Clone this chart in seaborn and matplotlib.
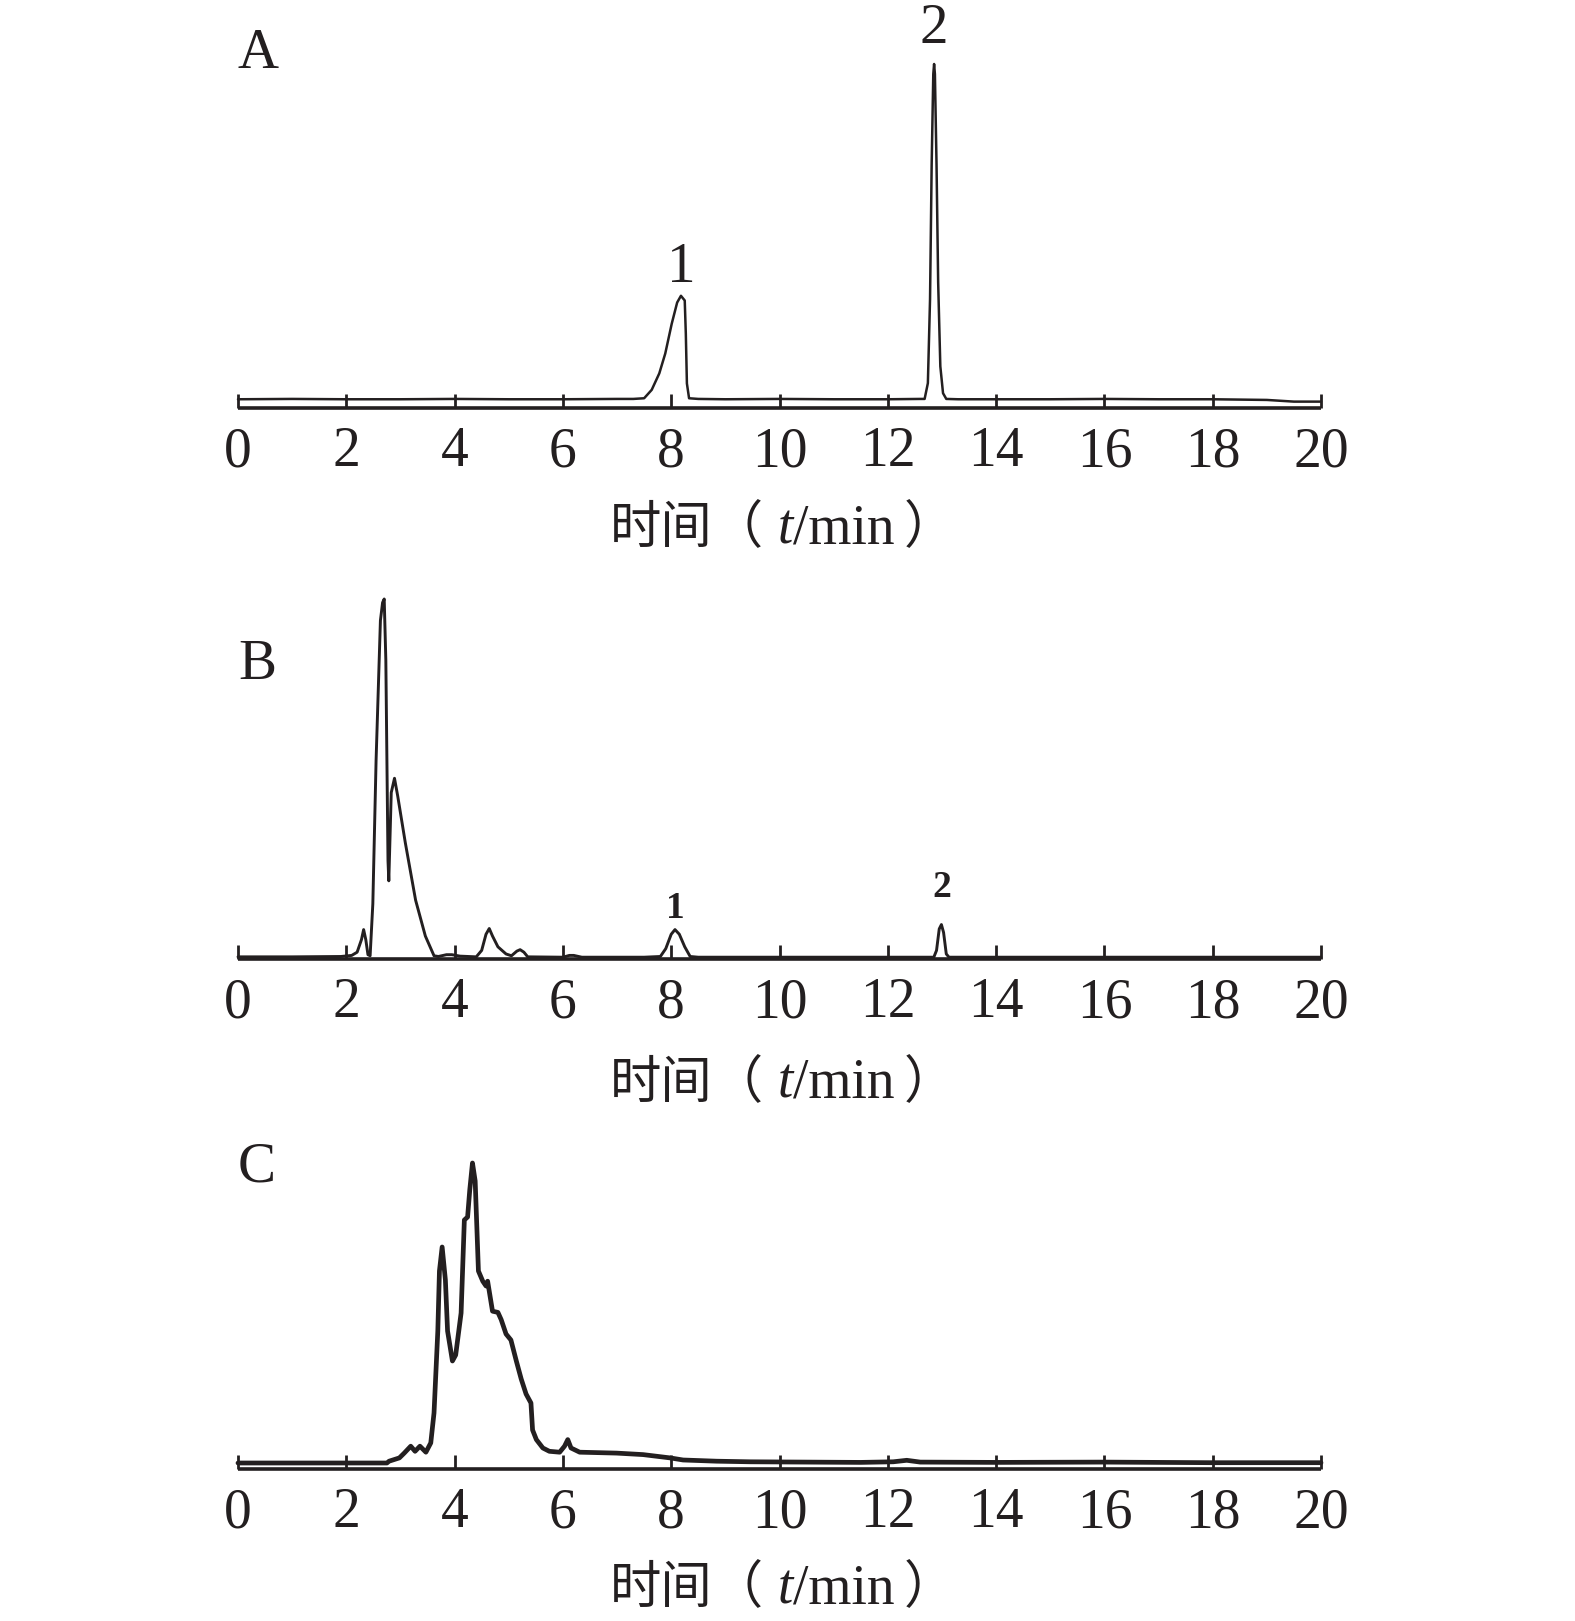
import numpy as np
import pandas as pd
import matplotlib
matplotlib.use("Agg")
import matplotlib.pyplot as plt
import seaborn as sns

# ---------------- data ----------------
# Chromatogram A (standards), intensity normalised to peak 2 = 100
a_time = [0, 1, 2, 3, 4, 5, 6, 7, 7.3, 7.50, 7.64, 7.78, 7.89, 8.01, 8.11, 8.18,
          8.25, 8.27, 8.29, 8.33, 8.5, 9, 10, 11, 12, 12.6, 12.68, 12.74, 12.78,
          12.81, 12.84, 12.855, 12.87, 12.90, 12.93, 12.97, 13.02, 13.08, 13.3,
          14, 15, 16, 17, 18, 19, 19.5, 20]
a_int = [0.2, 0.3, 0.2, 0.2, 0.3, 0.2, 0.2, 0.3, 0.3, 0.5, 3.0, 7.9, 13.8, 22.7, 29.0, 31.0,
         29.6, 19.7, 4.9, 0.5, 0.3, 0.2, 0.3, 0.2, 0.2, 0.3, 0.3, 5.0, 30.0,
         70.0, 97.0, 100.0, 97.0, 70.0, 35.0, 10.0, 2.0, 0.3, 0.2,
         0.2, 0.2, 0.3, 0.2, 0.2, 0.0, -0.5, -0.5]

# Chromatogram B (sample), normalised to the largest peak = 100
b_time = [0, 1, 1.9, 2.1, 2.2, 2.28, 2.32, 2.36, 2.40, 2.44, 2.49, 2.55, 2.63, 2.67,
          2.70, 2.73, 2.77, 2.785, 2.83, 2.89, 2.95, 3.09, 3.28, 3.46, 3.62, 3.7,
          3.85, 3.95, 4.1, 4.4, 4.5, 4.58, 4.64, 4.7, 4.8, 4.95, 5.05, 5.15, 5.21,
          5.28, 5.35, 6.0, 6.12, 6.2, 6.35, 7.5, 7.8, 7.9, 8.0, 8.07, 8.15, 8.25,
          8.35, 8.5, 12.85, 12.9, 12.95, 12.99, 13.03, 13.08, 13.13, 20]
b_int = [0.2, 0.2, 0.3, 0.6, 1.5, 5.0, 7.8, 5.0, 0.8, 0.5, 15.0, 55.0, 94.0, 99.0,
         100.0, 83.0, 27.0, 21.4, 46.0, 50.0, 45.0, 32.0, 16.0, 6.0, 0.5, 0.3,
         0.8, 0.8, 0.4, 0.2, 2.0, 6.5, 8.1, 6.0, 3.0, 1.0, 0.5, 1.8, 2.2,
         1.5, 0.2, 0.1, 0.6, 0.6, 0.1, 0.1, 0.3, 2.5, 6.5, 7.8, 6.5, 3.0,
         0.3, 0.1, 0.1, 2.0, 8.0, 9.2, 7.0, 1.0, 0.1, 0.1]

# Chromatogram C (blank matrix), normalised to the largest peak = 100
c_time = [0, 2.75, 2.79, 2.98, 3.07, 3.19, 3.27, 3.36, 3.47, 3.56, 3.62, 3.69, 3.72,
          3.77, 3.83, 3.87, 3.96, 4.02, 4.12, 4.18, 4.24, 4.28, 4.33, 4.38, 4.44,
          4.52, 4.58, 4.61, 4.70, 4.80, 4.86, 4.95, 5.04, 5.14, 5.23, 5.32, 5.41,
          5.44, 5.51, 5.63, 5.75, 5.94, 6.03, 6.09, 6.15, 6.31, 6.99, 7.48, 7.98,
          8.22, 8.84, 9.46, 10.5, 11.5, 12.1, 12.35, 12.6, 14, 16, 18, 20]
c_int = [0.0, 0.0, 0.6, 1.7, 3.3, 5.6, 3.9, 5.6, 3.6, 6.7, 16.7, 44.0, 64.0,
         72.0, 61.0, 44.0, 34.0, 36.0, 50.0, 81.0, 82.0, 91.0, 100.0, 94.0, 64.0,
         60.6, 59.0, 60.6, 50.6, 50.2, 47.8, 43.0, 41.0, 34.0, 28.0, 23.0, 20.0,
         11.0, 7.8, 5.0, 3.9, 3.6, 5.6, 7.8, 5.0, 3.6, 3.3, 2.8, 1.7,
         1.0, 0.6, 0.4, 0.3, 0.2, 0.4, 0.9, 0.3, 0.2, 0.3, 0.1, 0.1]

panel_letters = ["A", "B", "C"]
a_peak_time = [8.18, 12.855]
a_peak_int = [31.0, 100.0]
a_peak_labels = ["1", "2"]
b_peak_time = [8.07, 12.99]
b_peak_int = [7.8, 9.2]
b_peak_labels = ["1", "2"]

x_ticks = list(range(0, 21, 2))
x_ticklabels = [str(v) for v in x_ticks]

# ---------------- style ----------------
sns.set_theme(style="white")
plt.rcParams["font.family"] = ["Liberation Serif", "Noto Sans CJK SC", "DejaVu Sans"]
INK = "#231f20"

W, H = 1575, 1621
fig = plt.figure(figsize=(W / 100, H / 100), dpi=100)
fig.patch.set_facecolor("white")

def px_ax(bottom_px, top_px):
    left = 238 / W
    width = 1083 / W
    b = 1 - bottom_px / H
    t = 1 - top_px / H
    return fig.add_axes([left, b, width, t - b])

axA = px_ax(408, 64)
axB = px_ax(959, 599)
axC = px_ax(1469, 1163)

traces = [
    (axA, a_time, a_int, 1.8, -2.4),
    (axB, b_time, b_int, 2.1, -0.4),
    (axC, c_time, c_int, 3.4, -2.0),
]

for ax, t, y, lw, ybot in traces:
    df = pd.DataFrame({"t": t, "y": y})
    sns.lineplot(data=df, x="t", y="y", ax=ax, color=INK, linewidth=lw,
                 estimator=None, sort=False)
    for ln in ax.lines:
        ln.set_clip_on(False)
        ln.set_solid_joinstyle("round")
    ax.set_xlim(0, 20)
    ax.set_ylim(ybot, 100)
    ax.set_facecolor("none")
    for s in ["top", "right", "left"]:
        ax.spines[s].set_visible(False)
    ax.spines["bottom"].set_color(INK)
    ax.spines["bottom"].set_linewidth(2.6)
    ax.spines["bottom"].set_capstyle("butt")
    ax.set_yticks([])
    ax.set_xticks(x_ticks)
    ax.set_xticklabels(x_ticklabels)
    ax.tick_params(axis="x", direction="in", length=10, width=2.0, color=INK,
                   labelsize=40, labelcolor=INK, pad=13, bottom=True)
    ax.set_xlabel("")
    ax.set_ylabel("")

# panel letters
letter_pos = [(258, 54), (257, 665), (257, 1168)]
for letter, (px, py) in zip(panel_letters, letter_pos):
    fig.text(px / W, 1 - py / H, letter, ha="center", va="center",
             fontsize=41, color=INK, family="Liberation Serif")

# peak labels
for tt, hh, lab, off in zip(a_peak_time, a_peak_int, a_peak_labels, [20, 25]):
    axA.annotate(lab, xy=(tt, hh), xytext=(0, off), textcoords="offset points",
                 ha="center", va="center", fontsize=41, color=INK,
                 family="Liberation Serif", annotation_clip=False)
for tt, hh, lab, off in zip(b_peak_time, b_peak_int, b_peak_labels, [15, 27]):
    axB.annotate(lab, xy=(tt, hh), xytext=(0, off), textcoords="offset points",
                 ha="center", va="center", fontsize=27, fontweight="bold",
                 color=INK, family="Liberation Serif", annotation_clip=False)

# x-axis titles: 时间（ t/min ）
def axis_title(ax, baseline_px):
    yb = 1 - baseline_px / H
    p1 = fig.text(610 / W, yb, "时间（", ha="left", va="baseline", fontsize=37,
                  color=INK, family=["Noto Sans CJK SC"])
    p2 = ax.annotate(" t", xy=(1, yb), xycoords=(p1, "figure fraction"),
                     ha="left", va="baseline", fontsize=40, color=INK,
                     family="Liberation Serif", style="italic", annotation_clip=False)
    p3 = ax.annotate("/min", xy=(1, yb), xycoords=(p2, "figure fraction"),
                     ha="left", va="baseline", fontsize=40, color=INK,
                     family="Liberation Serif", annotation_clip=False)
    p4 = ax.annotate(" ", xy=(1, yb), xycoords=(p3, "figure fraction"),
                     ha="left", va="baseline", fontsize=26, color=INK,
                     family="Liberation Serif", annotation_clip=False)
    ax.annotate("）", xy=(1, yb), xycoords=(p4, "figure fraction"),
                ha="left", va="baseline", fontsize=37, color=INK,
                family=["Noto Sans CJK SC"], annotation_clip=False)

axis_title(axA, 543)
axis_title(axB, 1098)
axis_title(axC, 1603)

fig.savefig("out.png", dpi=100, facecolor="white")
